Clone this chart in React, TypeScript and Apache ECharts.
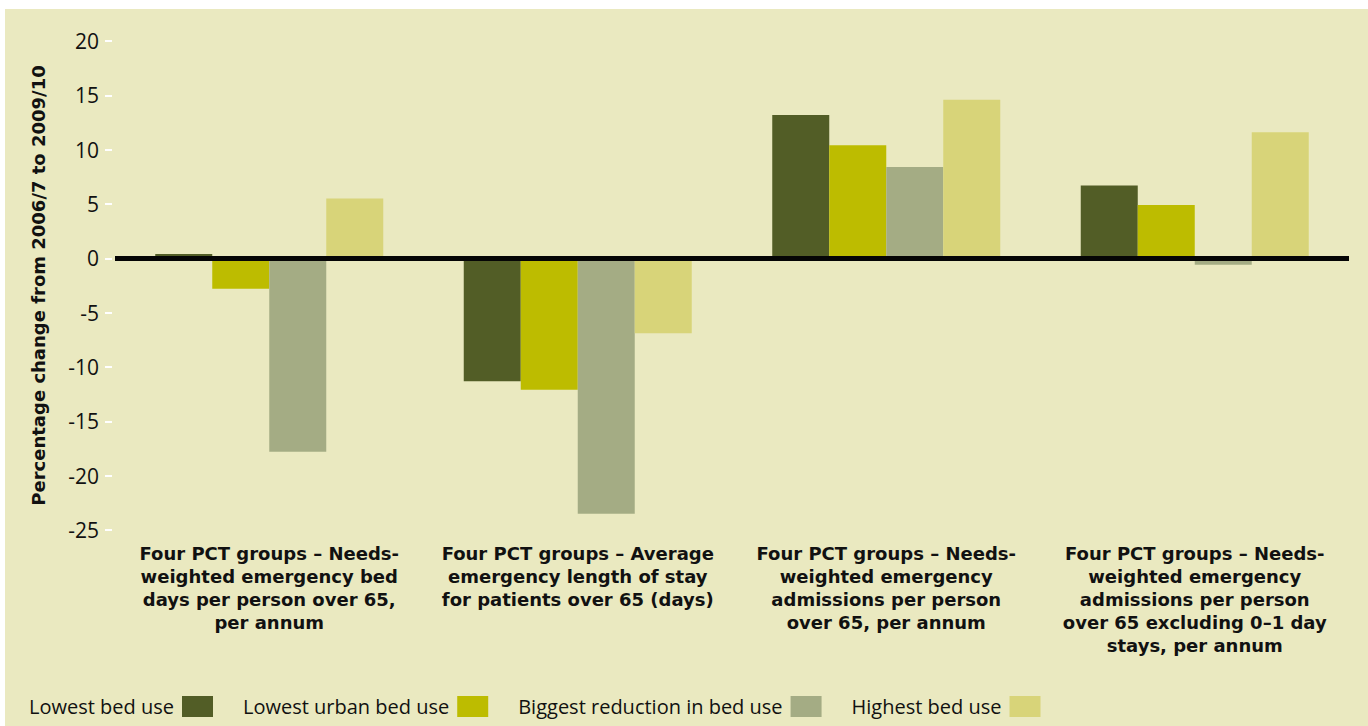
import React, { useEffect, useRef } from "react";
import * as echarts from "echarts";

const categories = [
  "Four PCT groups – Needs-\nweighted emergency bed\ndays per person over 65,\nper annum",
  "Four PCT groups – Average\nemergency length of stay\nfor patients over 65 (days)",
  "Four PCT groups – Needs-\nweighted emergency\nadmissions per person\nover 65, per annum",
  "Four PCT groups – Needs-\nweighted emergency\nadmissions per person\nover 65 excluding 0–1 day\nstays, per annum",
];

const seriesNames = [
  "Lowest bed use",
  "Lowest urban bed use",
  "Biggest reduction in bed use",
  "Highest bed use",
];

const lowestBedUse = [0.4, -11.3, 13.2, 6.7];
const lowestUrbanBedUse = [-2.8, -12.1, 10.4, 4.9];
const biggestReduction = [-17.8, -23.5, 8.4, -0.6];
const highestBedUse = [5.5, -6.9, 14.6, 11.6];

const seriesValues = [lowestBedUse, lowestUrbanBedUse, biggestReduction, highestBedUse];
const seriesColors = ["#525D26", "#BDBC00", "#A4AC84", "#D8D479"];

const yAxisTitle = "Percentage change from 2006/7 to 2009/10";
const yMin = -25;
const yMax = 20;
const yInterval = 5;

const FONT = "'Open Sans', 'Noto Sans', sans-serif";
const BOLD_FONT = "'DejaVu Sans', 'Open Sans', sans-serif";

export default function App() {
  const ref = useRef<HTMLDivElement>(null);

  useEffect(() => {
    if (!ref.current) return;
    const chart = echarts.init(ref.current, undefined, { renderer: "svg" });
    const series: any[] = seriesNames.map((name, i) => ({
      name,
      type: "bar",
      data: seriesValues[i],
      barWidth: 57,
      barGap: "0%",
      itemStyle: { color: seriesColors[i] },
      ...(i === seriesNames.length - 1
        ? {
            markLine: {
              silent: true,
              symbol: "none",
              z: 10,
              label: { show: false },
              lineStyle: { color: "#050505", width: 5, type: "solid" },
              data: [{ yAxis: 0 }],
            },
          }
        : {}),
    }));

    chart.setOption({
      animation: false,
      backgroundColor: "#ffffff",
      textStyle: { fontFamily: FONT },
      graphic: [
        {
          type: "rect",
          z: -10,
          silent: true,
          shape: { x: 5, y: 9, width: 1363, height: 717 },
          style: { fill: "#EAE9C0" },
        },
      ],
      legend: {
        data: seriesNames,
        left: 29,
        top: 696,
        padding: 0,
        align: "right",
        icon: "rect",
        itemWidth: 31,
        itemHeight: 21,
        itemGap: 30,
        textStyle: {
          fontFamily: FONT,
          fontSize: 20,
          color: "#111111",
          padding: [0, 3, 0, 0],
        },
      },
      grid: { left: 115, right: 19, top: 41, bottom: 196, containLabel: false },
      xAxis: {
        type: "category",
        data: categories,
        position: "bottom",
        axisLine: { show: false, onZero: false },
        axisTick: { show: false },
        axisLabel: {
          interval: 0,
          margin: 12,
          fontFamily: BOLD_FONT,
          fontSize: 18,
          fontWeight: "bold",
          lineHeight: 23,
          color: "#111111",
          align: "center",
        },
      },
      yAxis: {
        type: "value",
        min: yMin,
        max: yMax,
        interval: yInterval,
        offset: 3,
        name: yAxisTitle,
        nameLocation: "middle",
        nameGap: 65,
        nameTextStyle: {
          fontFamily: BOLD_FONT,
          fontSize: 18,
          fontWeight: "bold",
          color: "#111111",
        },
        axisLine: { show: false },
        axisTick: { show: true, length: 7, lineStyle: { color: "#ffffff", width: 2 } },
        splitLine: { show: false },
        axisLabel: {
          margin: 13,
          fontFamily: FONT,
          fontSize: 21,
          color: "#111111",
        },
      },
      series,
    });
    return () => chart.dispose();
  }, []);

  return (
    <div
      ref={ref}
      style={{ position: "absolute", left: 0, top: 0, width: 1368, height: 726 }}
    />
  );
}
